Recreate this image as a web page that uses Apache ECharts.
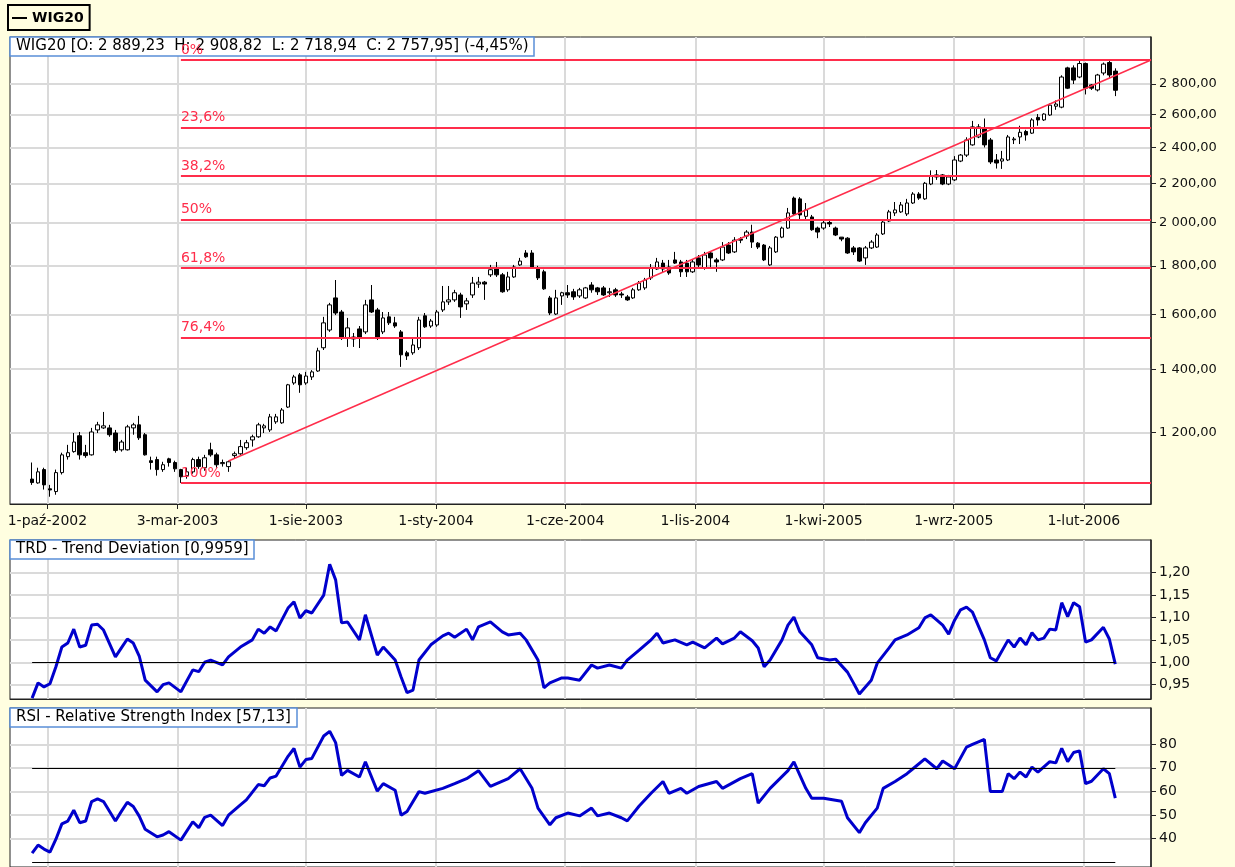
<!DOCTYPE html>
<html><head><meta charset="utf-8">
<script src="https://cdn.jsdelivr.net/npm/echarts@6/dist/echarts.min.js"></script>
<style>html,body{margin:0;padding:0;background:#FFFEE0;}#c{width:1235px;height:867px;}</style>
</head><body><div id="c"></div>
<script>
// ---- data ----
const firstWeek = [2002, 8, 13];          // first weekly candle: Fri 13 Sep 2002
const xRange = [[2002, 7, 18], [2006, 3, 21]];
// weekly candles [open, close, low, high]
const candles = [
[1072,1063,1057,1116],[1062,1091,1060,1102],[1097,1057,1045,1102],[1047,1044,1027,1057],[1040,1089,1032,1097],
[1089,1137,1084,1143],[1132,1143,1124,1165],[1146,1173,1143,1199],[1191,1137,1124,1202],[1143,1135,1129,1165],
[1137,1202,1135,1214],[1208,1223,1199,1232],[1214,1220,1211,1262],[1214,1194,1188,1223],[1199,1149,1143,1208],
[1151,1173,1146,1179],[1151,1217,1149,1223],[1214,1223,1194,1229],[1223,1185,1179,1250],[1194,1137,1135,1199],
[1121,1116,1097,1132],[1124,1097,1081,1132],[1097,1110,1091,1118],[1126,1116,1105,1129],[1116,1099,1091,1121],
[1097,1078,1062,1099],[1081,1091,1073,1102],[1091,1124,1086,1129],[1124,1105,1099,1132],[1102,1129,1094,1137],
[1151,1137,1132,1171],[1137,1110,1102,1143],[1113,1116,1105,1124],[1105,1118,1091,1121],[1135,1140,1126,1146],
[1140,1160,1137,1179],[1157,1171,1151,1179],[1179,1188,1160,1194],[1188,1223,1185,1229],[1214,1220,1199,1226],
[1208,1247,1202,1256],[1232,1247,1226,1256],[1229,1268,1226,1274],[1277,1348,1274,1351],[1354,1374,1348,1381],
[1381,1348,1322,1387],[1354,1377,1348,1391],[1374,1391,1364,1397],[1394,1464,1391,1475],[1475,1567,1467,1590],
[1540,1637,1533,1645],[1665,1605,1597,1739],[1609,1511,1503,1617],[1511,1548,1478,1586],[1514,1507,1478,1529],
[1544,1511,1474,1555],[1533,1637,1525,1657],[1657,1609,1605,1718],[1617,1511,1503,1625],[1533,1586,1525,1609],
[1590,1567,1559,1609],[1567,1555,1548,1590],[1533,1450,1408,1540],[1457,1446,1432,1464],[1457,1485,1450,1514],
[1475,1578,1467,1590],[1594,1552,1548,1605],[1555,1574,1548,1582],[1559,1609,1552,1617],[1617,1649,1609,1714],
[1649,1657,1637,1714],[1657,1686,1649,1698],[1677,1629,1586,1686],[1641,1653,1617,1665],[1677,1726,1665,1752],
[1722,1730,1706,1752],[1730,1722,1657,1735],[1761,1783,1752,1804],[1786,1761,1752,1817],[1761,1690,1686,1769],
[1698,1752,1690,1774],[1752,1795,1748,1804],[1804,1821,1800,1835],[1857,1840,1835,1870],[1857,1795,1791,1870],
[1791,1748,1739,1800],[1774,1702,1698,1783],[1665,1605,1597,1673],[1601,1665,1597,1698],[1673,1686,1637,1690],
[1686,1677,1665,1718],[1690,1669,1657,1702],[1673,1698,1665,1706],[1665,1706,1661,1710],[1718,1698,1686,1730],
[1706,1690,1677,1710],[1706,1677,1673,1714],[1686,1690,1669,1706],[1698,1677,1669,1706],[1681,1677,1665,1690],
[1669,1657,1653,1677],[1665,1698,1661,1706],[1698,1726,1694,1735],[1706,1739,1698,1748],[1748,1791,1739,1808],
[1786,1817,1782,1835],[1812,1786,1769,1826],[1795,1769,1761,1826],[1826,1812,1808,1862],[1817,1774,1752,1826],
[1812,1774,1752,1826],[1774,1817,1769,1826],[1835,1804,1795,1848],[1791,1848,1783,1862],[1857,1835,1795,1866],
[1826,1817,1774,1835],[1826,1884,1821,1907],[1893,1857,1853,1907],[1862,1916,1857,1930],[1921,1916,1902,1930],
[1935,1954,1921,1963],[1954,1907,1880,1989],[1902,1884,1875,1907],[1893,1826,1821,1898],[1804,1880,1800,1889],
[1862,1930,1857,1935],[1930,1973,1925,1980],[1973,2047,1969,2072],[2122,2042,2037,2130],[2118,2037,2012,2127],
[2030,2062,2012,2097],[2027,1965,1960,2037],[1973,1954,1925,1980],[1973,1998,1965,2017],[2000,1993,1978,2017],
[1973,1940,1935,1980],[1930,1921,1911,1930],[1925,1857,1853,1930],[1880,1862,1848,1889],[1880,1821,1817,1884],
[1835,1880,1804,1889],[1880,1907,1875,1916],[1884,1940,1880,1949],[1945,2002,1940,2012],[2007,2052,2002,2062],
[2047,2062,2032,2102],[2052,2087,2047,2102],[2042,2097,2032,2118],[2097,2143,2092,2153],[2143,2122,2113,2153],
[2118,2200,2113,2207],[2196,2237,2190,2270],[2234,2245,2218,2272],[2245,2196,2190,2250],[2196,2234,2190,2245],
[2218,2328,2212,2350],[2322,2356,2316,2362],[2356,2444,2345,2460],[2415,2523,2410,2560],[2462,2523,2455,2540],
[2518,2415,2400,2575],[2444,2317,2305,2456],[2328,2311,2280,2362],[2322,2334,2278,2380],[2328,2462,2322,2474],
[2445,2450,2420,2462],[2462,2490,2420,2530],[2495,2474,2440,2505],[2485,2566,2480,2577],[2582,2566,2530,2603],
[2566,2603,2560,2608],[2597,2660,2592,2670],[2653,2667,2630,2690],[2647,2848,2640,2860],[2912,2772,2766,2920],
[2912,2827,2800,2930],[2848,2943,2840,2968],[2943,2772,2730,2950],[2794,2772,2760,2800],[2760,2862,2750,2870],
[2876,2939,2860,2950],[2950,2862,2840,2968],[2889.23,2757.95,2718.94,2908.82]
];
// indicator vertices [week index, value]
const trdPoints = [[0,0.92],[1,0.954],[2,0.945],[3,0.952],[4,0.99],[5,1.034],[6,1.043],[7,1.074],[8,1.034],[9,1.038],[10,1.083],[11,1.085],[12,1.072],[14,1.012],[15,1.032],[16,1.052],[17,1.043],[18,1.014],[19,0.96],[21,0.934],[22,0.95],[23,0.954],[25,0.934],[27,0.983],[28,0.979],[29,1.0],[30,1.005],[32,0.994],[33,1.012],[35,1.034],[37,1.05],[38,1.074],[39,1.065],[40,1.079],[41,1.07],[43,1.121],[44,1.135],[45,1.099],[46,1.115],[47,1.11],[49,1.15],[50,1.219],[51,1.184],[52,1.088],[53,1.09],[55,1.05],[56,1.106],[58,1.016],[59,1.034],[61,1.005],[62,0.967],[63,0.932],[64,0.938],[65,1.005],[67,1.039],[69,1.059],[70,1.065],[71,1.056],[73,1.074],[74,1.05],[75,1.079],[77,1.09],[79,1.068],[80,1.061],[82,1.065],[83,1.05],[85,1.005],[86,0.943],[87,0.954],[89,0.965],[90,0.965],[92,0.96],[94,0.994],[95,0.987],[97,0.994],[99,0.987],[100,1.005],[102,1.027],[104,1.05],[105,1.065],[106,1.043],[108,1.05],[110,1.039],[111,1.045],[113,1.032],[115,1.054],[116,1.041],[118,1.054],[119,1.068],[121,1.048],[122,1.032],[123,0.99],[124,1.005],[126,1.05],[127,1.083],[128,1.101],[129,1.068],[131,1.039],[132,1.01],[134,1.005],[135,1.007],[137,0.978],[138,0.954],[139,0.929],[141,0.96],[142,0.998],[144,1.032],[145,1.05],[147,1.061],[149,1.077],[150,1.099],[151,1.106],[153,1.083],[154,1.063],[155,1.094],[156,1.117],[157,1.123],[158,1.112],[160,1.05],[161,1.01],[162,1.003],[164,1.05],[165,1.034],[166,1.054],[167,1.039],[168,1.066],[169,1.05],[170,1.054],[171,1.074],[172,1.072],[173,1.133],[174,1.102],[175,1.133],[176,1.124],[177,1.045],[178,1.05],[180,1.078],[181,1.052],[182,0.9959]];
const rsiPoints = [[0,33.75],[1,37.2],[2,35.5],[3,34.2],[4,39.7],[5,46.2],[6,47.4],[7,52],[8,46.7],[9,47.4],[10,55.7],[11,56.8],[12,55.7],[14,47.4],[15,51.5],[16,55.4],[17,53.6],[18,49.5],[19,43.9],[21,40.7],[22,41.5],[23,42.9],[25,39.3],[27,47.1],[28,44.6],[29,49],[30,49.9],[32,45.5],[33,49.9],[35,54.3],[36,56.4],[38,62.9],[39,62.4],[40,65.7],[41,66.5],[43,74.9],[44,78.2],[45,70.3],[46,73.5],[47,74],[49,83.5],[50,85.5],[51,80.7],[52,66.8],[53,68.9],[55,66.1],[56,72.6],[58,60.1],[59,63.3],[61,60.5],[62,49.9],[63,51.5],[65,59.9],[66,59.2],[69,61.3],[71,63.3],[73,65.4],[75,68.8],[77,62.1],[80,65.4],[82,69.6],[84,61.3],[85,52.9],[87,45.8],[88,48.8],[90,50.8],[92,49.6],[94,52.9],[95,49.6],[97,50.8],[99,48.8],[100,47.5],[102,53.8],[104,59.2],[106,64.2],[107,59.2],[109,61.3],[110,59.2],[112,62.1],[115,64.2],[116,61.3],[119,65.4],[121,67.5],[122,55],[124,61.3],[127,68.8],[128,72.5],[130,61.3],[131,57.1],[133,57.1],[136,55.8],[137,48.8],[139,42.5],[140,46.7],[142,52.9],[143,61.3],[145,64.2],[147,67.5],[148,69.6],[150,73.8],[152,69.6],[153,72.9],[155,69.6],[157,78.8],[158,80],[160,82.1],[161,60],[163,59.9],[164,67.5],[165,65.4],[166,68.2],[167,66.1],[168,70.3],[169,68.2],[171,72.6],[172,72.1],[173,78.3],[174,72.6],[175,76.5],[176,77.2],[177,63.3],[178,64.3],[180,69.6],[181,67.5],[182,57.13]];
// axes / ticks
const xTickDates = [[2002,9,1],[2003,2,3],[2003,7,1],[2004,0,1],[2004,5,1],[2004,10,1],[2005,3,1],[2005,8,1],[2006,1,1]];
const xTickLabels = ['1-paź-2002','3-mar-2003','1-sie-2003','1-sty-2004','1-cze-2004','1-lis-2004','1-kwi-2005','1-wrz-2005','1-lut-2006'];
const mainTicks = [1200,1400,1600,1800,2000,2200,2400,2600,2800];
const mainRange = [1009, 3139];
const trdTicks = [0.95,1.00,1.05,1.10,1.15,1.20];
const trdRange = [0.918, 1.273];
const rsiTicks = [40,50,60,70,80];
const rsiRange = [27.9, 95.4];
const trdLevels = [1.0];
const rsiLevels = [70, 30];
// Fibonacci retracement
const fibHigh = 2968, fibLow = 1062, fibStartWeek = 25;
const fibPcts = [0, 23.6, 38.2, 50, 61.8, 76.4, 100];
const fibLabels = ['0%','23,6%','38,2%','50%','61,8%','76,4%','100%'];
// trend line
const trendStart = [33, 1120];
const trendEndValue = 2968;
const titles = ['WIG20 [O: 2 889,23  H: 2 908,82  L: 2 718,94  C: 2 757,95] (-4,45%)',
                'TRD - Trend Deviation [0,9959]',
                'RSI - Relative Strength Index [57,13]'];

// ---- helpers ----
const weekDate = i => new Date(firstWeek[0], firstWeek[1], firstWeek[2] + 7 * i).getTime();
const ymd = a => new Date(a[0], a[1], a[2]).getTime();
const xMin = ymd(xRange[0]), xMax = ymd(xRange[1]);
const xTicks = xTickDates.map(ymd);
const lastWeek = candles.length - 1;
function fmtMain(v) {
  const s = v.toFixed(2).split('.');
  return s[0].replace(/\B(?=(\d{3})+(?!\d))/g, ' ') + ',' + s[1];
}
const FONT = 'DejaVu Sans';
const GRID_LINE = { show: true, lineStyle: { color: '#DADADA', width: 2 } };
const RED = '#FF2D4B';

function xAxis(gi, showLabels) {
  return {
    type: 'value', gridIndex: gi, min: xMin, max: xMax, scale: true,
    axisLine: { show: true, lineStyle: { color: '#222', width: 1 } },
    axisTick: { show: showLabels, customValues: xTicks, length: 5, lineStyle: { color: '#222' } },
    axisLabel: {
      show: showLabels, customValues: xTicks, margin: 10, hideOverlap: false,
      fontFamily: FONT, fontSize: 14, color: '#111',
      formatter: v => { const k = xTicks.indexOf(v); return k >= 0 ? xTickLabels[k] : ''; }
    },
    splitLine: GRID_LINE
  };
}
function yAxis(gi, type, range, ticks, fmt, fs) {
  return {
    type: type, gridIndex: gi, position: 'right', min: range[0], max: range[1],
    axisLine: { show: true, lineStyle: { color: '#222', width: 1.5 } },
    axisTick: { show: true, customValues: ticks, length: 5, lineStyle: { color: '#222' } },
    axisLabel: { customValues: ticks, margin: 8, fontFamily: FONT, fontSize: fs, color: '#111', formatter: fmt },
    splitLine: GRID_LINE
  };
}
function levelLines(levels) {
  return {
    silent: true, symbol: ['none', 'none'], animation: false,
    label: { show: false },
    lineStyle: { color: '#000', width: 1.2, type: 'solid' },
    data: levels.map(v => [{ coord: [weekDate(0), v] }, { coord: [weekDate(lastWeek), v] }])
  };
}
function titleBox(text, top) {
  return {
    text: text, left: 10, top: top, z: 1,
    padding: [2, 6, 2, 6], borderColor: '#5A8FD8', borderWidth: 1.5, backgroundColor: '#fff',
    textStyle: { fontFamily: FONT, fontSize: 15, fontWeight: 'normal', color: '#000' }
  };
}

const chart = echarts.init(document.getElementById('c'), null, { renderer: 'canvas' });
chart.setOption({
  animation: false,
  backgroundColor: '#FFFEE0',
  legend: {
    left: 8, top: 5, selectedMode: false,
    data: [{ name: 'WIG20', icon: 'rect', itemStyle: { color: '#000', borderWidth: 0 } }],
    itemWidth: 15, itemHeight: 2, padding: [6, 6, 5, 4],
    borderColor: '#000', borderWidth: 2,
    textStyle: { fontFamily: FONT, fontSize: 14, fontWeight: 'bold', color: '#000' }
  },
  title: [titleBox(titles[0], 37), titleBox(titles[1], 540), titleBox(titles[2], 708)],
  grid: [
    { left: 10, right: 84, top: 37, height: 467, show: true, backgroundColor: '#fff', borderColor: '#222', borderWidth: 1 },
    { left: 10, right: 84, top: 540, height: 159, show: true, backgroundColor: '#fff', borderColor: '#222', borderWidth: 1 },
    { left: 10, right: 84, top: 708, height: 162, show: true, backgroundColor: '#fff', borderColor: '#222', borderWidth: 1 }
  ],
  xAxis: [xAxis(0, true), xAxis(1, false), xAxis(2, false)],
  yAxis: [
    yAxis(0, 'log', mainRange, mainTicks, fmtMain, 13),
    yAxis(1, 'value', trdRange, trdTicks, v => v.toFixed(2).replace('.', ','), 14),
    yAxis(2, 'value', rsiRange, rsiTicks, v => String(v), 14)
  ],
  series: [
    {
      name: 'WIG20', type: 'candlestick', xAxisIndex: 0, yAxisIndex: 0, barWidth: 4,
      itemStyle: { color: '#fff', color0: '#000', borderColor: '#000', borderColor0: '#000', borderWidth: 1 },
      data: candles.map((c, i) => [weekDate(i), c[0], c[1], c[2], c[3]]),
      markLine: {
        silent: true, symbol: ['none', 'none'], animation: false,
        lineStyle: { color: RED, width: 2, type: 'solid' },
        label: { show: true, position: 'insideStartTop', distance: [0, 3], color: RED, fontFamily: FONT, fontSize: 14 },
        data: fibPcts.map((p, k) => {
          const v = fibHigh - p / 100 * (fibHigh - fibLow);
          return [{ coord: [weekDate(fibStartWeek), v], label: { formatter: fibLabels[k] } }, { coord: [xMax, v] }];
        })
      }
    },
    {
      name: 'trend', type: 'line', xAxisIndex: 0, yAxisIndex: 0, showSymbol: false, silent: true, z: 3,
      lineStyle: { color: RED, width: 1.5 },
      data: [[weekDate(trendStart[0]), trendStart[1]], [xMax, trendEndValue]]
    },
    {
      name: 'TRD', type: 'line', xAxisIndex: 1, yAxisIndex: 1, showSymbol: false, z: 3,
      lineStyle: { color: '#0000CC', width: 3 },
      data: trdPoints.map(p => [weekDate(p[0]), p[1]]),
      markLine: levelLines(trdLevels)
    },
    {
      name: 'RSI', type: 'line', xAxisIndex: 2, yAxisIndex: 2, showSymbol: false, z: 3,
      lineStyle: { color: '#0000CC', width: 3 },
      data: rsiPoints.map(p => [weekDate(p[0]), p[1]]),
      markLine: levelLines(rsiLevels)
    }
  ]
});
</script></body></html>
